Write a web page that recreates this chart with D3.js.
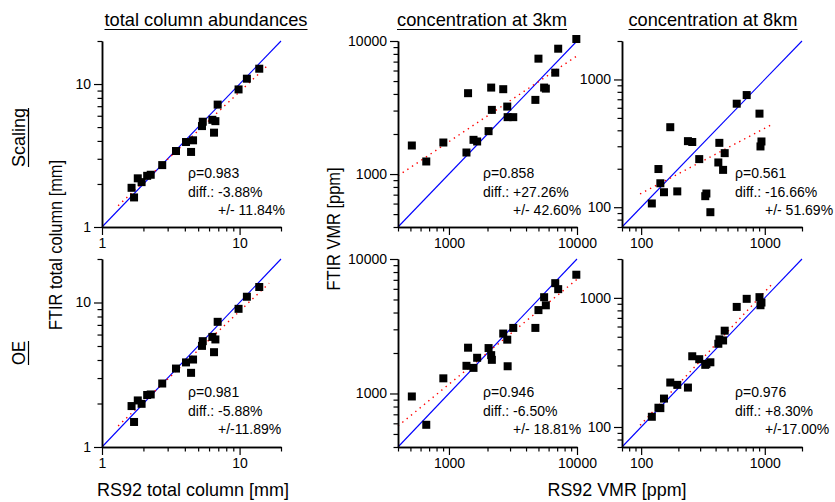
<!DOCTYPE html>
<html>
<head>
<meta charset="utf-8">
<script src="https://cdn.jsdelivr.net/npm/d3@7"></script>
<style>
body { margin: 0; background: #fff; }
svg text { font-family: "Liberation Sans", Arial, sans-serif; fill: #000; }
</style>
</head>
<body>
<svg id="chart" width="835" height="502"></svg>
<script>
// titles
var columnTitles = ["total column abundances", "concentration at 3km", "concentration at 8km"];
var rowTitles = ["Scaling", "OE"];
var xTitles = ["RS92 total column [mm]", "RS92 VMR [ppm]"];
var yTitles = ["FTIR total column [mm]", "FTIR VMR [ppm]"];

// total column (mm)
var tcRs92    = [1.64, 1.71, 1.82, 1.94, 2.13, 2.26, 2.74, 3.45, 4.08, 4.44, 4.59, 5.33, 5.40, 6.34, 6.67, 6.52, 6.93, 9.83, 11.3, 13.9];
var tcScaling = [1.88, 1.61, 2.19, 2.06, 2.28, 2.32, 2.71, 3.40, 3.93, 3.35, 4.04, 5.08, 5.45, 5.62, 5.50, 4.57, 7.18, 9.17, 10.9, 12.8];
var tcOE      = [1.92, 1.49, 2.10, 1.99, 2.29, 2.31, 2.75, 3.49, 3.85, 3.26, 4.03, 5.01, 5.40, 5.78, 5.55, 4.53, 7.35, 9.04, 10.96, 12.8];

// 3km (ppm)
var c3Rs92    = [513, 665, 904, 1370, 1410, 1555, 1660, 2039, 2137, 2163, 2654, 2853, 2873, 3178, 4731, 5000, 5537, 5710, 6762, 7131, 9880];
var c3Scaling = [1639, 1243, 1726, 1452, 4053, 1808, 1757, 2101, 4466, 3036, 4343, 3215, 2677, 2677, 3609, 7367, 4466, 4386, 5781, 8752, 10350];
var c3OE      = [950, 585, 1296, 1606, 2190, 1550, 1843, 2176, 1928, 1779, 2790, 2513, 1594, 3073, 3073, 4170, 5198, 4526, 6611, 5968, 7640];

// 8km (ppm)
var c8Rs92    = [122, 138, 143, 153, 172, 196, 239, 259, 295, 330, 337, 363, 421, 429, 460, 474, 593, 714, 906, 923, 940];
var c8Scaling = [107, 199, 154, 131, 423, 133, 329, 324, 238, 122, 128, 91.4, 224, 319, 196, 265, 646, 755, 540, 299, 327];
var c8OE      = [120, 141, 140, 166, 221, 212, 202, 353, 335, 303, 308, 317, 441, 477, 468, 557, 851, 983, 1013, 877, 920];

// regression lines, start and end [x, y]
var fitScaling = [[[1.31, 1.41], [16.4, 13.8]], [[400, 970], [10000, 7730]], [[98, 127], [1127, 441]]];
var fitOE      = [[[1.31, 1.40], [16.4, 13.6]], [[400, 573], [10000, 7063]], [[98, 103], [1137, 1271]]];

// statistics
var rhoLabels    = [["ρ=0.983", "ρ=0.858", "ρ=0.561"], ["ρ=0.981", "ρ=0.946", "ρ=0.976"]];
var diffLabels   = [["diff.: -3.88%", "diff.: +27.26%", "diff.: -16.66%"], ["diff.: -5.88%", "diff.: -6.50%", "diff.: +8.30%"]];
var spreadLabels = [["+/- 11.84%", "+/- 42.60%", "+/- 51.69%"], ["+/-11.89%", "+/- 18.81%", "+/-17.00%"]];

// axes
var domains = [[1, 20], [400, 10000], [70, 2000]];
var tickLabels = [[1, 10], [1000, 10000], [100, 1000]];

// layout
var colX = [[102, 281], [398, 577], [622, 802]];
var rowY = [[41, 227], [259, 447]];
var textX = [188, 483, 735];
var textY = [178, 397];

var xs = [tcRs92, c3Rs92, c8Rs92];
var ys = [[tcScaling, c3Scaling, c8Scaling], [tcOE, c3OE, c8OE]];
var fits = [fitScaling, fitOE];

var svg = d3.select("#chart");

function logTicks(dom) {
    var out = [];
    for (var k = Math.floor(Math.log10(dom[0])); k <= Math.ceil(Math.log10(dom[1])); k++) {
        for (var m = 1; m <= 9; m++) {
            var v = m * Math.pow(10, k);
            if (v >= dom[0] * 0.999 && v <= dom[1] * 1.001) out.push(v);
        }
    }
    return out;
}

function styleAxis(g) {
    g.select(".domain").attr("stroke", "#000").attr("stroke-width", 1.5);
    g.selectAll(".tick line").attr("stroke", "#000").attr("stroke-width", 1.2);
    g.selectAll(".tick text").style("font-size", "14px").attr("fill", "#000");
}

for (var r = 0; r < 2; r++) {
    for (var c = 0; c < 3; c++) {
        drawPanel(r, c);
    }
}

function drawPanel(r, c) {
    var dom = domains[c];
    var x = d3.scaleLog().domain(dom).range(colX[c]);
    var y = d3.scaleLog().domain(dom).range([rowY[r][1], rowY[r][0]]);
    var all = logTicks(dom);
    var major = all.filter(function (v) { return Math.abs(Math.log10(v) - Math.round(Math.log10(v))) < 1e-9; });
    var minor = all.filter(function (v) { return major.indexOf(v) < 0; });
    var fmt = function (v) { return tickLabels[c].indexOf(v) >= 0 ? String(v) : ""; };

    var g = svg.append("g");

    // 1:1 line
    g.append("line")
        .attr("x1", x(dom[0])).attr("y1", y(dom[0]))
        .attr("x2", x(dom[1])).attr("y2", y(dom[1]))
        .attr("stroke", "#0000ff").attr("stroke-width", 1.1);

    // fit
    var f = fits[r][c];
    g.append("line")
        .attr("x1", x(f[0][0])).attr("y1", y(f[0][1]))
        .attr("x2", x(f[1][0])).attr("y2", y(f[1][1]))
        .attr("stroke", "#ff0000").attr("stroke-width", 1.4)
        .attr("stroke-dasharray", "1.4,4.2");

    var pts = xs[c].map(function (v, i) { return [v, ys[r][c][i]]; });
    g.selectAll("rect.pt").data(pts).enter().append("rect")
        .attr("class", "pt")
        .attr("x", function (d) { return x(d[0]) - 4; })
        .attr("y", function (d) { return y(d[1]) - 4; })
        .attr("width", 8).attr("height", 8)
        .attr("fill", "#000");

    // axes: minor then major
    var xMinor = g.append("g").attr("transform", "translate(0," + rowY[r][1] + ")")
        .call(d3.axisBottom(x).tickValues(minor).tickSize(4.5).tickSizeOuter(0).tickFormat(""));
    var xMajor = g.append("g").attr("transform", "translate(0," + rowY[r][1] + ")")
        .call(d3.axisBottom(x).tickValues(major).tickSize(8).tickSizeOuter(0).tickPadding(3).tickFormat(fmt));
    var yMinor = g.append("g").attr("transform", "translate(" + colX[c][0] + ",0)")
        .call(d3.axisLeft(y).tickValues(minor).tickSize(4.5).tickSizeOuter(0).tickFormat(""));
    var yMajor = g.append("g").attr("transform", "translate(" + colX[c][0] + ",0)")
        .call(d3.axisLeft(y).tickValues(major).tickSize(8).tickSizeOuter(0).tickPadding(3).tickFormat(fmt));
    [xMinor, xMajor, yMinor, yMajor].forEach(styleAxis);

    // stats text
    var tx = textX[c], ty = textY[r];
    g.append("text").attr("x", tx).attr("y", ty).style("font-size", "14px").text(rhoLabels[r][c]);
    g.append("text").attr("x", tx).attr("y", ty + 18.5).style("font-size", "14px").text(diffLabels[r][c]);
    g.append("text").attr("x", tx + 30).attr("y", ty + 37).style("font-size", "14px").text(spreadLabels[r][c]);
}

// condensed label: text squeezed to a given length
function label(tx, ty, rot, str, len, underline) {
    var t = svg.append("text")
        .attr("transform", "translate(" + tx + "," + ty + ") rotate(" + rot + ")")
        .attr("text-anchor", "middle")
        .attr("textLength", len)
        .attr("lengthAdjust", "spacingAndGlyphs")
        .style("font-size", "19px")
        .text(str);
    if (underline) {
        svg.append("line")
            .attr("transform", "translate(" + tx + "," + ty + ") rotate(" + rot + ")")
            .attr("x1", -len / 2).attr("x2", len / 2)
            .attr("y1", 4).attr("y2", 4)
            .attr("stroke", "#000").attr("stroke-width", 1.2);
    }
    return t;
}

// column titles
var titleX = [206, 482, 713];
var titleLen = [203, 170, 169];
columnTitles.forEach(function (t, i) { label(titleX[i], 25.5, 0, t, titleLen[i], true); });

// row titles
var rowCenter = [137.5, 353];
var rowLen = [59, 24];
rowTitles.forEach(function (t, i) { label(24.5, rowCenter[i], -90, t, rowLen[i], true); });

// axis titles
label(193, 496, 0, xTitles[0], 192, false);
label(617, 496, 0, xTitles[1], 139, false);
label(62, 245, -90, yTitles[0], 170, false);
label(340, 229, -90, yTitles[1], 123, false);
</script>
</body>
</html>
